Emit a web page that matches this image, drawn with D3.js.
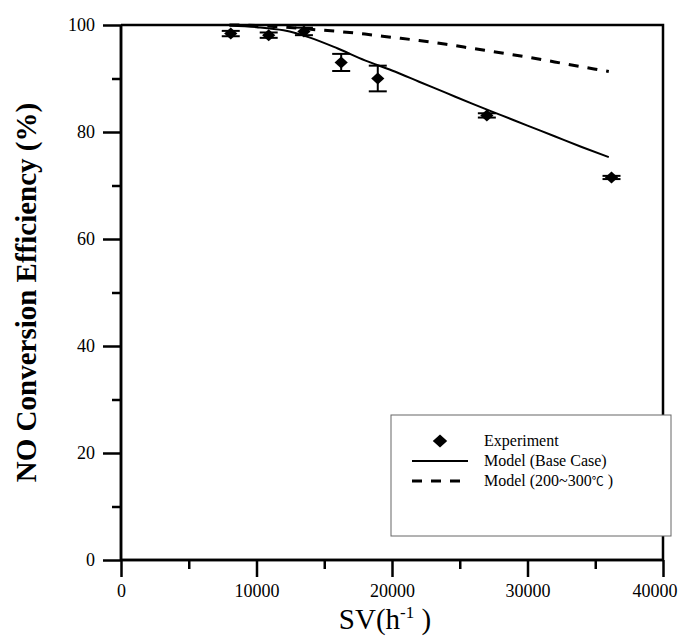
<!DOCTYPE html>
<html>
<head>
<meta charset="utf-8">
<script src="https://cdn.jsdelivr.net/npm/d3@7"></script>
<style>
  html, body { margin: 0; padding: 0; background: #fff; }
  svg { display: block; }
  text { font-family: "Liberation Serif", "Times New Roman", serif; fill: #000; }
</style>
</head>
<body>
<svg id="chart" width="678" height="636"></svg>
<script>
// Space velocity (h^-1) and NO conversion efficiency (%)
const svExp = [8100, 10900, 13500, 16250, 18950, 27000, 36200];
const effExp = [98.4, 98.1, 98.8, 93.0, 90.0, 83.1, 71.5];
const errExp = [0.5, 0.5, 0.7, 1.6, 2.4, 0.4, 0.3];

const svModel = [8000, 10000, 12000, 14000, 16000, 18000, 20000, 22000, 24000, 26000, 28000, 30000, 32000, 34000, 36000];
const effBase = [99.9, 99.6, 99.0, 97.6, 95.6, 93.4, 91.5, 89.4, 87.3, 85.2, 83.2, 81.2, 79.2, 77.2, 75.3];
const effHot = [100, 99.9, 99.6, 99.2, 98.8, 98.3, 97.7, 97.1, 96.4, 95.6, 94.8, 94.0, 93.1, 92.2, 91.3];

const xTicks = [0, 10000, 20000, 30000, 40000];
const xMinor = [5000, 15000, 25000, 35000];
const yTicks = [0, 20, 40, 60, 80, 100];
const yMinor = [10, 30, 50, 70, 90];

const legendLabels = ["Experiment", "Model (Base Case)", "Model (200~300"];

const W = 678;
const svg = d3.select("#chart");
const m = { left: 121, right: 663, top: 25, bottom: 560 };

const x = d3.scaleLinear().domain([0, 40000]).range([m.left, m.right]);
const y = d3.scaleLinear().domain([0, 100]).range([m.bottom, m.top]);

// model curves
const line = d3.line()
  .x((d, i) => x(svModel[i]))
  .y(d => y(d))
  .curve(d3.curveMonotoneX);

svg.append("path")
  .attr("d", line(effBase))
  .attr("fill", "none")
  .attr("stroke", "#000")
  .attr("stroke-width", 2);

svg.append("path")
  .attr("d", line(effHot))
  .attr("fill", "none")
  .attr("stroke", "#000")
  .attr("stroke-width", 3)
  .attr("stroke-dasharray", "10,9");

// experimental points with error bars
const pts = svExp.map((v, i) => ({ sv: v, eff: effExp[i], err: errExp[i] }));
const cap = 9;
const eb = svg.append("g").attr("stroke", "#000").attr("stroke-width", 2);
pts.forEach(p => {
  const cx = x(p.sv);
  eb.append("line").attr("x1", cx).attr("x2", cx)
    .attr("y1", y(p.eff + p.err)).attr("y2", y(p.eff - p.err));
  [p.eff + p.err, p.eff - p.err].forEach(v => {
    eb.append("line").attr("x1", cx - cap).attr("x2", cx + cap)
      .attr("y1", y(v)).attr("y2", y(v));
  });
});

// filled diamond: a square turned 45 degrees, a little wider than tall
const diamond = d3.symbol().type(d3.symbolSquare).size(72);
svg.append("g").selectAll("path")
  .data(pts)
  .join("path")
  .attr("d", diamond)
  .attr("transform", d => `translate(${x(d.sv)},${y(d.eff)}) scale(1.1,1) rotate(45)`)
  .attr("fill", "#000");

// frame: top and right borders
svg.append("path")
  .attr("d", `M${m.left},${m.top}H${m.right}V${m.bottom}`)
  .attr("fill", "none")
  .attr("stroke", "#000")
  .attr("stroke-width", 2.5);

// x axis
const xAxis = svg.append("g").attr("transform", `translate(0,${m.bottom})`);
xAxis.call(d3.axisBottom(x).tickValues(xTicks).tickSize(17).tickPadding(7).tickFormat(d3.format("d")));
xAxis.append("g").call(d3.axisBottom(x).tickValues(xMinor).tickSize(9).tickFormat(""));
xAxis.selectAll(".domain").attr("stroke-width", 2.5).attr("d", `M${m.left},0H${m.right}`);
xAxis.selectAll(".tick line").attr("stroke-width", 2.5);
xAxis.selectAll(".tick text").attr("font-size", 18).attr("font-family", "Liberation Serif, serif");
// keep the last label inside the page
xAxis.selectAll(".tick text")
  .filter(d => d === 40000)
  .attr("text-anchor", "end")
  .attr("x", W - 1 - x(40000));

// y axis
const yAxis = svg.append("g").attr("transform", `translate(${m.left},0)`);
yAxis.call(d3.axisLeft(y).tickValues(yTicks).tickSize(18).tickPadding(8));
yAxis.append("g").call(d3.axisLeft(y).tickValues(yMinor).tickSize(9).tickFormat(""));
yAxis.selectAll(".domain").attr("stroke-width", 2.5).attr("d", `M0,${m.top}V${m.bottom}`);
yAxis.selectAll(".tick line").attr("stroke-width", 2.5);
yAxis.selectAll(".tick text").attr("font-size", 18).attr("font-family", "Liberation Serif, serif");

// axis titles
const xt = svg.append("text")
  .attr("x", 385)
  .attr("y", 629)
  .attr("text-anchor", "middle")
  .attr("font-size", 29);
xt.append("tspan").text("SV(h");
xt.append("tspan").attr("font-size", 17).attr("dy", -11).text("-1");
xt.append("tspan").attr("dy", 11).text(" )");

svg.append("text")
  .attr("transform", `translate(36,${(m.top + m.bottom) / 2}) rotate(-90)`)
  .attr("text-anchor", "middle")
  .attr("font-size", 29)
  .attr("font-weight", "bold")
  .text("NO Conversion Efficiency (%)");

// legend
const lg = svg.append("g");
lg.append("rect")
  .attr("x", 391).attr("y", 415)
  .attr("width", 280).attr("height", 121)
  .attr("fill", "#fff")
  .attr("stroke", "#666")
  .attr("stroke-width", 1);

const rowY = [441, 461, 481];
lg.append("path")
  .attr("d", diamond)
  .attr("transform", `translate(440,${rowY[0]}) scale(1.2,1.1) rotate(45)`)
  .attr("fill", "#000");
lg.append("line")
  .attr("x1", 412).attr("x2", 468).attr("y1", rowY[1]).attr("y2", rowY[1])
  .attr("stroke", "#000").attr("stroke-width", 2);
lg.append("line")
  .attr("x1", 412).attr("x2", 468).attr("y1", rowY[2]).attr("y2", rowY[2])
  .attr("stroke", "#000").attr("stroke-width", 3).attr("stroke-dasharray", "10,9");

const lt = lg.selectAll("text.lab")
  .data(legendLabels)
  .join("text")
  .attr("class", "lab")
  .attr("x", 484)
  .attr("y", (d, i) => rowY[i] + 5)
  .attr("font-size", 16)
  .text(d => d);
// small degree-Celsius sign on the last entry
lt.filter((d, i) => i === 2)
  .append("tspan").attr("font-size", 12).attr("font-family", "Noto Sans CJK SC, sans-serif").text("\u2103");
lt.filter((d, i) => i === 2)
  .append("tspan").text(" )");
</script>
</body>
</html>
